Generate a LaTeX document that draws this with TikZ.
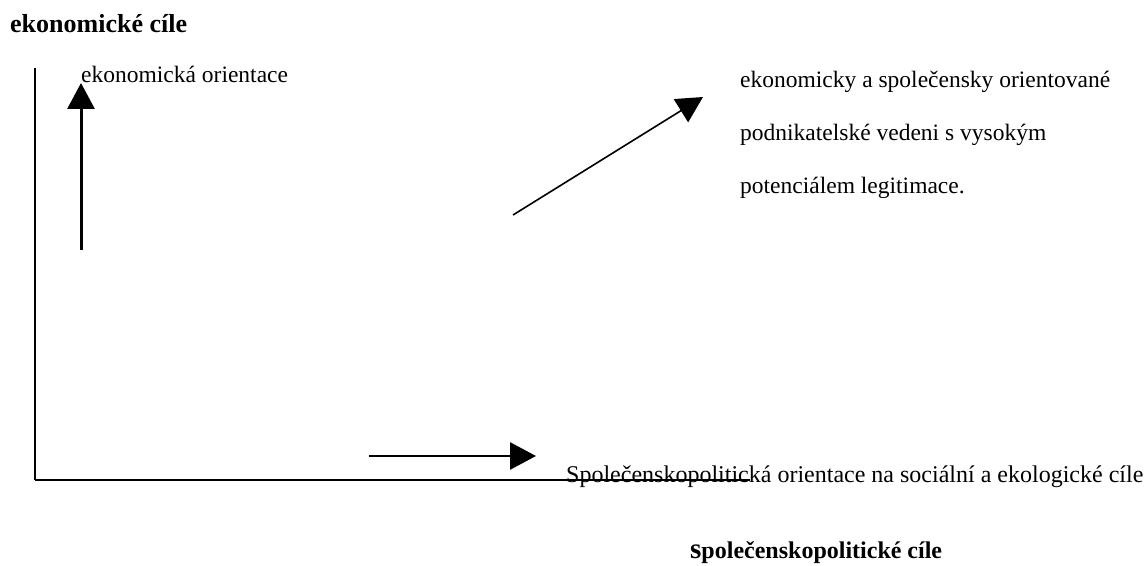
\documentclass[tikz,border=0pt]{standalone}
\usepackage{fontspec}
\setmainfont{Liberation Serif}
\usetikzlibrary{arrows.meta}
\begin{document}
\begin{tikzpicture}[x=1bp,y=-1bp,
  lbl/.style={anchor=base west,inner sep=0pt,font=\fontsize{23.5bp}{28bp}\selectfont},
  ttl/.style={anchor=base west,inner sep=0pt,font=\fontsize{26bp}{30bp}\selectfont\bfseries},
  bigarrow/.style={-{Triangle[length=26bp,width=27bp]}},
]
\useasboundingbox (0,0) rectangle (1147,566);
% axes
\coordinate (ytop) at (35,68);
\coordinate (origin) at (35,480);
\coordinate (xend) at (750,480);
\draw[line width=1.5bp] (ytop) -- (origin);
\draw[line width=2.2bp] (origin) -- (xend);
% texts
\node[ttl] (t1) at (10,33) {ekonomické cíle};
\node[lbl] (l1) at (81,83) {ekonomická orientace};
\node[lbl] (r1) at (740,88) {ekonomicky a společensky orientované};
\node[lbl] (r2) at (740,141) {podnikatelské vedeni s vysokým};
\node[lbl] (r3) at (740,194) {potenciálem legitimace.};
\node[lbl,font=\fontsize{24bp}{28bp}\selectfont] (b1) at (566,482) {Společenskopolitická orientace na sociální a ekologické cíle};
\node[ttl,font=\fontsize{24bp}{28bp}\selectfont\bfseries] (t2) at (690,558) {{\fontsize{29bp}{28bp}\selectfont s}polečenskopolitické cíle};
% arrows
\coordinate (ua0) at (81,250);
\coordinate (ua1) at (81,83);
\draw[bigarrow,line width=3bp] (ua0) -- (ua1);
\coordinate (da0) at (513,215);
\coordinate (da1) at (703,97);
\draw[bigarrow,line width=1.6bp] (da0) -- (da1);
\coordinate (ha0) at (369,456);
\coordinate (ha1) at (536,456);
\draw[bigarrow,line width=2.6bp] (ha0) -- (ha1);
\end{tikzpicture}
\end{document}
